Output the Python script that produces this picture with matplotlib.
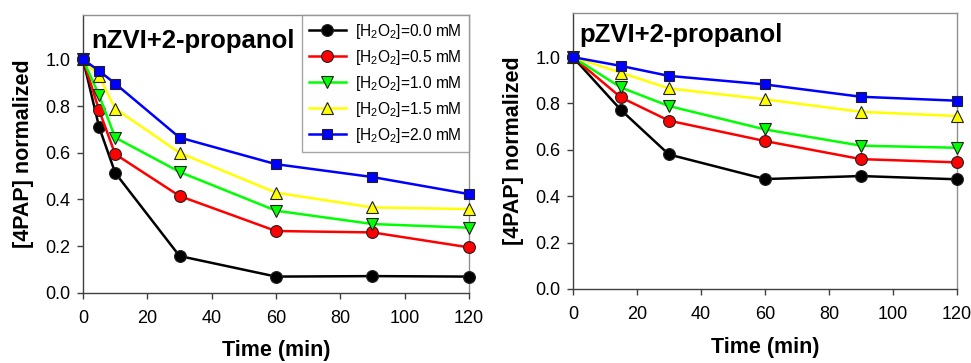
import matplotlib
matplotlib.use("Agg")
import matplotlib.pyplot as plt

plt.rcParams['font.family'] = ['Liberation Sans', 'DejaVu Sans']
plt.rcParams['mathtext.fontset'] = 'custom'
plt.rcParams['mathtext.rm'] = 'Liberation Sans'
plt.rcParams['mathtext.it'] = 'Liberation Sans'
plt.rcParams['mathtext.bf'] = 'Liberation Sans:bold'

# Data
time_n = [0, 5, 10, 30, 60, 90, 120]
nzvi = {
    '0.0': [1.0, 0.71, 0.514, 0.158, 0.070, 0.072, 0.070],
    '0.5': [1.0, 0.782, 0.594, 0.415, 0.265, 0.259, 0.195],
    '1.0': [1.0, 0.846, 0.665, 0.518, 0.352, 0.295, 0.279],
    '1.5': [1.0, 0.927, 0.789, 0.600, 0.429, 0.366, 0.359],
    '2.0': [1.0, 0.950, 0.896, 0.665, 0.551, 0.496, 0.423],
}
time_p = [0, 15, 30, 60, 90, 120]
pzvi = {
    '0.0': [1.0, 0.772, 0.580, 0.474, 0.487, 0.473],
    '0.5': [1.0, 0.826, 0.726, 0.638, 0.560, 0.546],
    '1.0': [1.0, 0.869, 0.789, 0.688, 0.618, 0.609],
    '1.5': [1.0, 0.933, 0.865, 0.818, 0.764, 0.746],
    '2.0': [1.0, 0.962, 0.919, 0.882, 0.829, 0.812],
}
concs = ['0.0', '0.5', '1.0', '1.5', '2.0']
colors = ['#000000', '#ff0000', '#00ff00', '#ffff00', '#0000ff']
markers = ['o', 'o', 'v', '^', 's']
marker_sizes = [8.5, 8.5, 9, 9, 7.5]
xticks = [0, 20, 40, 60, 80, 100, 120]
yticks = [0.0, 0.2, 0.4, 0.6, 0.8, 1.0]

fig = plt.figure(figsize=(9.71, 3.63), dpi=100)
ax1 = fig.add_axes([0.0855, 0.193, 0.3975, 0.766])
ax2 = fig.add_axes([0.590, 0.204, 0.3956, 0.760])


def style(ax, title, title_x, title_y):
    ax.set_xlim(0, 120)
    ax.set_ylim(0, 1.19)
    ax.set_xticks(xticks)
    ax.set_yticks(yticks)
    ax.set_yticklabels([f'{v:.1f}' for v in yticks])
    ax.tick_params(axis='both', direction='out', length=4, width=1,
                   labelsize=13, color='#404040', pad=5)
    ax.tick_params(axis='x', pad=8)
    for s in ['top', 'right']:
        ax.spines[s].set_color('#909090')
        ax.spines[s].set_linewidth(1)
    for s in ['left', 'bottom']:
        ax.spines[s].set_color('#404040')
        ax.spines[s].set_linewidth(1)
    ax.set_xlabel('Time (min)', fontsize=15.5, fontweight='bold', labelpad=10)
    ax.set_ylabel('[4PAP] normalized', fontsize=15.5, fontweight='bold', labelpad=8)
    ax.text(title_x, title_y, title, transform=ax.transAxes, fontsize=18.5,
            fontweight='bold', ha='left', va='center')


for ax, tx, data in [(ax1, time_n, nzvi), (ax2, time_p, pzvi)]:
    for c, col, m, ms in zip(concs, colors, markers, marker_sizes):
        ax.plot(tx, data[c], color=col, lw=1.8, marker=m, markersize=ms,
                markerfacecolor=col, markeredgecolor='#202020',
                markeredgewidth=0.8, clip_on=False, zorder=3,
                label=f'[H$_2$O$_2$]={c} mM')

style(ax1, 'nZVI+2-propanol', 0.022, 0.905)
style(ax2, 'pZVI+2-propanol', 0.018, 0.92)

leg = ax1.legend(loc='upper right', fontsize=11.2, frameon=True, fancybox=False,
                 edgecolor='#909090', borderpad=0.45, labelspacing=0.45,
                 handlelength=2.4, handletextpad=0.6, borderaxespad=0.0)
leg.get_frame().set_linewidth(1)

fig.savefig('out.png', dpi=100)
